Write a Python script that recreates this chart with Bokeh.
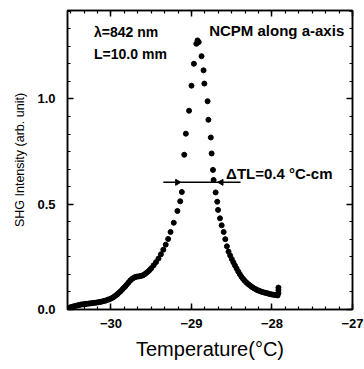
from bokeh.plotting import figure
from bokeh.models import (Range1d, LinearAxis, SingleIntervalTicker, NumeralTickFormatter,
                          CustomJSTickFormatter, ColumnDataSource, Label)
from bokeh.embed import file_html
from bokeh.resources import INLINE
import numpy as np

# ---- data ----
temp_left = [-30.54, -30.52, -30.50, -30.48, -30.46, -30.44, -30.42, -30.40, -30.38, -30.36,
             -30.34, -30.32, -30.30, -30.28, -30.26, -30.24, -30.22, -30.20, -30.18, -30.16,
             -30.14, -30.12, -30.10, -30.08, -30.06, -30.04, -30.02, -30.00, -29.98, -29.96,
             -29.94, -29.92, -29.90, -29.88, -29.86, -29.84, -29.82, -29.80, -29.78, -29.76,
             -29.74, -29.72, -29.70, -29.68, -29.66, -29.64, -29.62, -29.60, -29.58, -29.56,
             -29.54, -29.52, -29.50, -29.47, -29.44, -29.41, -29.38, -29.35, -29.32, -29.29,
             -29.26, -29.22, -29.175, -29.14, -29.12, -29.09, -29.07, -29.03, -29.00, -28.97,
             -28.94, -28.925, -28.91]
shg_left = [0.005, 0.008, 0.011, 0.013, 0.015, 0.017, 0.019, 0.021, 0.023, 0.024,
            0.025, 0.026, 0.027, 0.028, 0.029, 0.030, 0.031, 0.032, 0.033, 0.034,
            0.036, 0.037, 0.039, 0.041, 0.043, 0.046, 0.049, 0.052, 0.056, 0.061,
            0.067, 0.073, 0.080, 0.087, 0.095, 0.103, 0.111, 0.120, 0.129, 0.138,
            0.145, 0.150, 0.154, 0.156, 0.157, 0.158, 0.160, 0.163, 0.168, 0.174,
            0.180, 0.187, 0.196, 0.210, 0.225, 0.242, 0.262, 0.284, 0.308, 0.335,
            0.368, 0.412, 0.468, 0.514, 0.558, 0.735, 0.835, 0.944, 1.063, 1.167,
            1.262, 1.278, 1.270]
temp_right = [-28.875, -28.85, -28.84, -28.80, -28.79, -28.76, -28.75, -28.733, -28.725, -28.70,
              -28.68, -28.67, -28.646, -28.625, -28.60, -28.58, -28.56, -28.54, -28.52, -28.50,
              -28.48, -28.46, -28.44, -28.42, -28.40, -28.38, -28.36, -28.34, -28.32, -28.30,
              -28.28, -28.26, -28.24, -28.22, -28.20, -28.18, -28.16, -28.14, -28.12, -28.10,
              -28.08, -28.06, -28.04, -28.02, -28.00, -27.98, -27.96, -27.94, -27.93, -27.92,
              -27.92, -27.92]
shg_right = [1.203, 1.136, 1.073, 0.989, 0.901, 0.817, 0.741, 0.663, 0.615, 0.556,
             0.512, 0.473, 0.433, 0.400, 0.368, 0.334, 0.300, 0.275, 0.257, 0.240,
             0.224, 0.209, 0.195, 0.181, 0.168, 0.156, 0.146, 0.137, 0.129, 0.122,
             0.116, 0.110, 0.105, 0.100, 0.096, 0.092, 0.089, 0.086, 0.083, 0.081,
             0.079, 0.077, 0.075, 0.073, 0.071, 0.070, 0.069, 0.068, 0.067, 0.078,
             0.092, 0.104]

fwhm_x = [-29.35, -28.39]
fwhm_y = [0.604, 0.604]
arrow_x = [-29.175, -28.63]
arrow_y = [0.604, 0.604]

temps = temp_left + temp_right
shg = shg_left + shg_right

p = figure(width=364, height=369, output_backend="svg", toolbar_location=None,
           x_range=Range1d(-30.54, -27.0), y_range=Range1d(0.0, 1.42),
           min_border_left=67, min_border_right=12, min_border_top=10, min_border_bottom=60,
           x_axis_label="Temperature(°C)", y_axis_label="SHG Intensity (arb. unit)")
p.background_fill_color = "white"
p.border_fill_color = "white"
p.outline_line_color = "black"
p.outline_line_width = 1.5
p.xgrid.visible = False
p.ygrid.visible = False

p.xaxis.ticker = SingleIntervalTicker(interval=1, num_minor_ticks=6)
p.yaxis.ticker = SingleIntervalTicker(interval=0.5, num_minor_ticks=6)
p.yaxis.formatter = NumeralTickFormatter(format="0.0")

for ax in (p.xaxis[0], p.yaxis[0]):
    ax.major_tick_in = 6
    ax.major_tick_out = 0
    ax.minor_tick_in = 3
    ax.minor_tick_out = 0
    ax.axis_line_width = 1.5
    ax.major_tick_line_width = 1.5
    ax.minor_tick_line_width = 1.2
    ax.major_label_text_font = "Liberation Sans"
    ax.major_label_text_font_style = "bold"
    ax.major_label_text_font_size = "13px"
    ax.major_label_text_color = "black"
    ax.axis_label_text_font = "Liberation Sans"
    ax.axis_label_text_font_style = "normal"
    ax.axis_label_text_color = "black"

p.xaxis.major_label_standoff = 9
p.yaxis.major_label_standoff = 12
p.xaxis.axis_label_text_font_size = "20px"
p.xaxis.axis_label_standoff = 7
p.yaxis.axis_label_text_font_size = "12.5px"
p.yaxis.axis_label_standoff = 7

blank = CustomJSTickFormatter(code="return ''")
top = LinearAxis(ticker=SingleIntervalTicker(interval=1, num_minor_ticks=6),
                 formatter=blank, major_label_standoff=0, major_tick_in=6, major_tick_out=0,
                 minor_tick_in=3, minor_tick_out=0, axis_line_width=1.5,
                 major_tick_line_width=1.5, minor_tick_line_width=1.2)
right = LinearAxis(ticker=SingleIntervalTicker(interval=0.5, num_minor_ticks=6),
                   formatter=blank, major_label_standoff=0, major_tick_in=6, major_tick_out=0,
                   minor_tick_in=3, minor_tick_out=0, axis_line_width=1.5,
                   major_tick_line_width=1.5, minor_tick_line_width=1.2)
p.add_layout(top, "above")
p.add_layout(right, "right")

src = ColumnDataSource(dict(x=temps, y=shg))
p.scatter("x", "y", source=src, size=5, color="black")

p.line(fwhm_x, fwhm_y, line_color="black", line_width=1.6)
p.scatter(arrow_x, arrow_y, marker="triangle", size=6, color="black",
          angle=[-np.pi / 2, np.pi / 2])

label_kw = dict(text_font="Liberation Sans", text_font_style="bold",
                text_font_size="14px", text_color="black", text_baseline="middle")
p.add_layout(Label(x=-30.21, y=1.32, text="λ=842 nm", **label_kw))
p.add_layout(Label(x=-30.21, y=1.215, text="L=10.0 mm", **label_kw))
p.add_layout(Label(x=-28.78, y=1.325, text="NCPM along a-axis",
                   **{**label_kw, "text_font_size": "15px"}))
p.add_layout(Label(x=-28.57, y=0.648, text="ΔTL=0.4 °C-cm",
                   **{**label_kw, "text_font_size": "15px"}))

open("out.html", "w").write(file_html(p, INLINE))
